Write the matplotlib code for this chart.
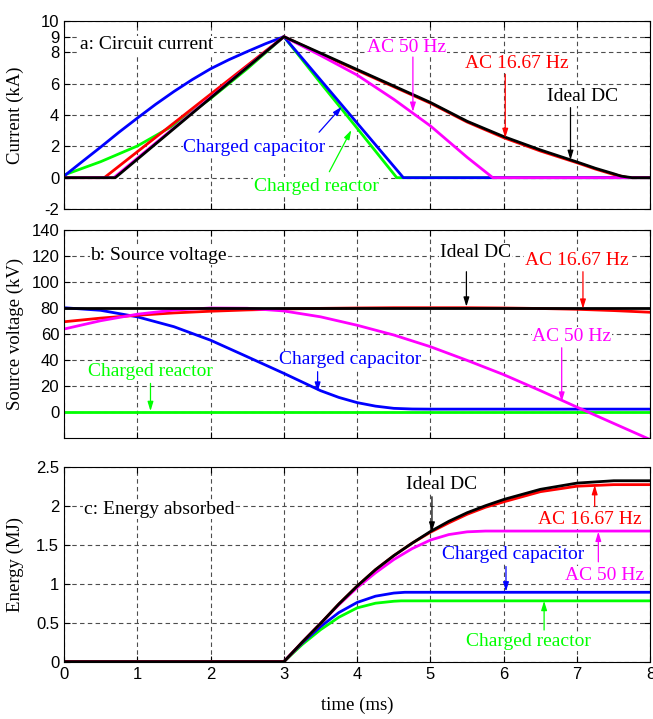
import numpy as np
import matplotlib
matplotlib.use('Agg')
import matplotlib.pyplot as plt

plt.rcParams['font.family'] = 'Liberation Serif'
plt.rcParams['axes.unicode_minus'] = False

# ---- a: circuit current (kA) ----
t_cap_a = [0, 0.25, 0.5, 0.75, 1, 1.25, 1.5, 1.75, 2, 2.25, 2.5, 2.75, 3, 3.5, 4, 4.63, 8]
i_cap = [0.1, 1.03, 1.95, 2.9, 3.8, 4.68, 5.5, 6.26, 6.95, 7.53, 8.05, 8.55, 9, 6.24, 3.48, 0, 0]
t_rea_a = [0, 0.5, 1, 1.5, 2, 2.5, 3, 3.5, 4, 4.54, 8]
i_rea = [0.17, 1.02, 2.02, 3.35, 5.05, 6.95, 9, 6.05, 3.15, 0, 0]
t_16_a = [0, 0.55, 3, 3.5, 4, 4.5, 5, 5.5, 6, 6.5, 7, 7.25, 7.5, 7.7, 8]
i_16 = [0, 0, 9, 7.9, 6.85, 5.8, 4.75, 3.55, 2.55, 1.7, 0.95, 0.55, 0.2, 0, 0]
t_50_a = [0, 0.68, 3, 3.5, 4, 4.5, 5, 5.5, 5.85, 8]
i_50 = [0, 0, 9, 7.8, 6.55, 5.0, 3.3, 1.3, 0, 0]
t_dc_a = [0, 0.7, 3, 3.5, 4, 4.5, 5, 5.5, 6, 6.5, 7, 7.25, 7.5, 7.6, 7.75, 8]
i_dc = [0, 0, 9, 7.95, 6.9, 5.85, 4.8, 3.6, 2.62, 1.77, 1.0, 0.6, 0.25, 0.1, 0, 0]

# ---- b: source voltage (kV) ----
t_b = [0, 0.5, 1, 1.5, 2, 2.5, 3, 3.5, 4, 4.5, 5, 5.5, 6, 6.5, 7, 7.5, 8]
v_dc = [80] * len(t_b)
v_16 = [69.2, 72, 74.2, 76, 77.3, 78.3, 79, 79.5, 79.8, 80, 80, 80, 79.8, 79.4, 78.8, 77.8, 76.5]
v_50 = [63.6, 70, 75, 78.2, 79.8, 79.6, 77.5, 73, 66.5, 59, 50, 39.5, 28.5, 16.2, 3.5, -9, -21.5]
t_cap_b = [0, 0.5, 1, 1.5, 2, 2.5, 3, 3.5, 3.75, 4, 4.25, 4.5, 4.75, 5, 8]
v_cap = [80, 78, 73, 65.4, 55, 42.3, 29.5, 16.2, 11, 7, 4.3, 2.6, 2.1, 2, 2]
v_rea = [0] * len(t_b)

# ---- c: energy absorbed (MJ) ----
t_dc_c = [0, 3, 3.25, 3.5, 3.75, 4, 4.25, 4.5, 4.75, 5, 5.25, 5.5, 5.75, 6, 6.5, 7, 7.5, 8]
e_dc = [0, 0, 0.25, 0.49, 0.74, 0.97, 1.18, 1.36, 1.52, 1.67, 1.80, 1.91, 2.0, 2.08, 2.21, 2.29, 2.32, 2.32]
e_16 = [0, 0, 0.25, 0.49, 0.74, 0.97, 1.18, 1.36, 1.52, 1.66, 1.78, 1.89, 1.98, 2.05, 2.18, 2.25, 2.27, 2.27]
t_50_c = [0, 3, 3.25, 3.5, 3.75, 4, 4.25, 4.5, 4.75, 5, 5.25, 5.5, 5.75, 6, 8]
e_50 = [0, 0, 0.25, 0.49, 0.73, 0.95, 1.14, 1.31, 1.45, 1.56, 1.63, 1.665, 1.675, 1.675, 1.675]
t_cap_c = [0, 3, 3.25, 3.5, 3.75, 4, 4.25, 4.5, 4.65, 8]
e_cap = [0, 0, 0.24, 0.45, 0.63, 0.76, 0.84, 0.88, 0.89, 0.89]
t_rea_c = [0, 3, 3.25, 3.5, 3.75, 4, 4.25, 4.5, 4.6, 8]
e_rea = [0, 0, 0.22, 0.41, 0.57, 0.69, 0.75, 0.775, 0.78, 0.78]

GREEN = (0, 1, 0)
BLUE = (0, 0, 1)
RED = (1, 0, 0)
MAG = (1, 0, 1)
BLK = (0, 0, 0)
LW = 2.0
FS = 14
LFS = 13.5

fig = plt.figure(figsize=(6.53, 7.19), dpi=100)
axa = fig.add_axes([0.098, 0.7093, 0.898, 0.2615])
axb = fig.add_axes([0.098, 0.3912, 0.898, 0.2893])
axc = fig.add_axes([0.098, 0.0797, 0.898, 0.2712])


def style(ax):
    ax.set_xlim(0, 8)
    ax.set_xticks(range(9))
    ax.grid(True, ls=(0, (4, 3)), color='0.3', lw=0.8)
    ax.tick_params(direction='in', top=True, right=True, length=4,
                   labelsize=12, labelfontfamily='Liberation Sans')
    for s in ax.spines.values():
        s.set_linewidth(0.8)


def note(ax, txt, col, xy, start, tip, ha='center'):
    ax.text(xy[0], xy[1], txt, color=col, fontsize=FS, ha=ha, va='center',
            bbox=dict(facecolor='white', edgecolor='none', pad=0.5), zorder=4)
    ax.annotate('', xy=tip, xytext=start, zorder=5,
                arrowprops=dict(arrowstyle='-|>,head_length=0.55,head_width=0.17',
                                color=col, lw=0.9, shrinkA=0, shrinkB=0))


# a
axa.plot(t_rea_a, i_rea, color=GREEN, lw=LW)
axa.plot(t_cap_a, i_cap, color=BLUE, lw=LW)
axa.plot(t_16_a, i_16, color=RED, lw=LW)
axa.plot(t_50_a, i_50, color=MAG, lw=LW)
axa.plot(t_dc_a, i_dc, color=BLK, lw=LW)
style(axa)
axa.set_ylim(-2, 10)
axa.set_yticks([-2, 0, 2, 4, 6, 8, 9, 10])
axa.set_xticklabels([])
axa.set_ylabel('Current (kA)', fontsize=LFS)
axa.text(0.22, 8.47, 'a: Circuit current', fontsize=FS, ha='left', va='center',
         bbox=dict(facecolor='white', edgecolor='none', pad=0.5), zorder=4)
note(axa, 'AC 50 Hz', MAG, (4.68, 8.34), (4.76, 7.7), (4.76, 4.2))
note(axa, 'AC 16.67 Hz', RED, (6.18, 7.26), (6.02, 6.6), (6.02, 2.53))
note(axa, 'Ideal DC', BLK, (7.07, 5.17), (6.91, 4.47), (6.91, 1.13))
note(axa, 'Charged capacitor', BLUE, (2.6, 1.93), (3.48, 2.9), (3.79, 4.53))
note(axa, 'Charged reactor', GREEN, (3.44, -0.56), (3.62, 0.38), (3.92, 3.04))

# b
axb.plot(t_b, v_rea, color=GREEN, lw=LW)
axb.plot(t_cap_b, v_cap, color=BLUE, lw=LW)
axb.plot(t_b, v_16, color=RED, lw=LW)
axb.plot(t_b, v_50, color=MAG, lw=LW)
axb.plot(t_b, v_dc, color=BLK, lw=LW)
style(axb)
axb.set_ylim(-20, 140)
axb.set_yticks(range(0, 141, 20))
axb.set_xticklabels([])
axb.set_ylabel('Source voltage (kV)', fontsize=LFS)
axb.text(0.36, 120, 'b: Source voltage', fontsize=FS, ha='left', va='center',
         bbox=dict(facecolor='white', edgecolor='none', pad=0.5), zorder=4)
note(axb, 'Ideal DC', BLK, (5.61, 122.6), (5.49, 107.7), (5.49, 80.8))
note(axb, 'AC 16.67 Hz', RED, (7.0, 116.7), (7.08, 107.7), (7.08, 79.2))
note(axb, 'AC 50 Hz', MAG, (6.93, 57.7), (6.79, 49.2), (6.79, 7.7))
note(axb, 'Charged capacitor', BLUE, (3.9, 39.8), (3.46, 30.8), (3.46, 15.4))
note(axb, 'Charged reactor', GREEN, (1.18, 30.8), (1.18, 21.8), (1.18, 0.5))

# c
axc.plot(t_rea_c, e_rea, color=GREEN, lw=LW)
axc.plot(t_cap_c, e_cap, color=BLUE, lw=LW)
axc.plot(t_50_c, e_50, color=MAG, lw=LW)
axc.plot(t_dc_c, e_16, color=RED, lw=LW)
axc.plot(t_dc_c, e_dc, color=BLK, lw=LW)
style(axc)
axc.set_ylim(0, 2.5)
axc.set_yticks([0, 0.5, 1, 1.5, 2, 2.5])
axc.set_yticklabels(['0', '0.5', '1', '1.5', '2', '2.5'])
axc.set_ylabel('Energy (MJ)', fontsize=LFS)
axc.set_xlabel('time (ms)', fontsize=LFS, labelpad=11)
axc.text(0.27, 1.945, 'c: Energy absorbed', fontsize=FS, ha='left', va='center',
         bbox=dict(facecolor='white', edgecolor='none', pad=0.5), zorder=4)
note(axc, 'Ideal DC', BLK, (5.15, 2.27), (5.02, 2.115), (5.02, 1.667))
note(axc, 'AC 16.67 Hz', RED, (7.17, 1.825), (7.24, 1.99), (7.24, 2.265))
note(axc, 'AC 50 Hz', MAG, (7.37, 1.11), (7.29, 1.28), (7.29, 1.667))
note(axc, 'Charged capacitor', BLUE, (6.13, 1.37), (6.03, 1.22), (6.03, 0.9))
note(axc, 'Charged reactor', GREEN, (6.34, 0.256), (6.55, 0.406), (6.55, 0.78))

for ax in (axa, axb, axc):
    ax.yaxis.set_label_coords(-0.068, 0.5)

plt.savefig('out.png', dpi=100)
